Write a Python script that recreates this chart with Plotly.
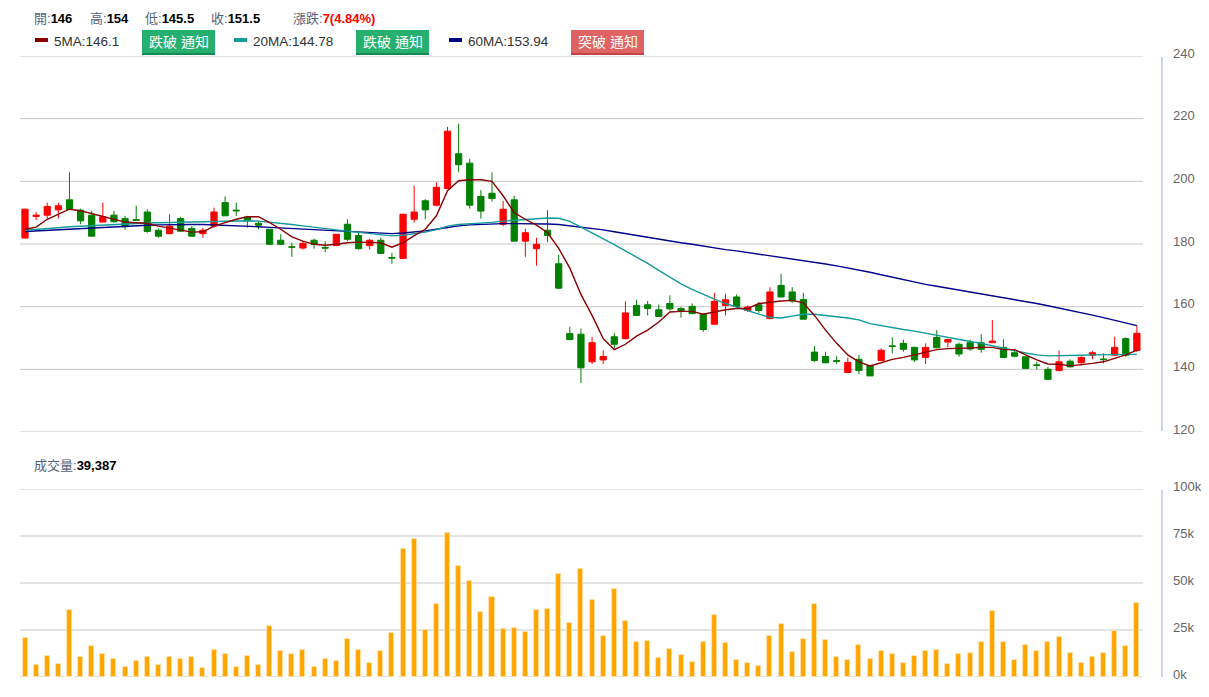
import plotly.graph_objects as go

# ---------------- data ----------------
days = list(range(1, 102))

opens = [181.9, 188.8, 189.2, 190.9, 194.1, 190.8, 189.2, 187.0, 189.2, 188.1,
         187.8, 190.2, 184.4, 183.3, 188.1, 185.0, 183.3, 185.7, 193.2, 190.8,
         188.6, 186.6, 184.7, 181.2, 179.1, 178.7, 181.2, 178.9, 179.5, 186.3,
         182.7, 179.5, 181.2, 175.7, 175.4, 187.9, 193.8, 192.4, 197.7, 208.8,
         205.8, 195.2, 196.2, 186.3, 194.1, 180.9, 178.5, 184.4, 173.7, 151.4,
         151.2, 142.4, 143.0, 150.4, 149.8, 160.4, 160.6, 159.0, 161.0, 159.4,
         160.1, 157.6, 154.4, 160.4, 163.1, 158.8, 160.6, 156.2, 166.8, 164.7,
         162.3, 145.5, 144.1, 142.8, 139.0, 143.2, 141.1, 142.8, 147.5, 148.3,
         147.0, 143.8, 150.2, 148.7, 148.0, 148.5, 148.5, 148.5, 147.0, 145.3,
         144.0, 141.4, 140.0, 139.6, 142.6, 142.1, 144.5, 143.3, 144.5, 149.8,
         146.0]
highs = [191.3, 190.2, 193.2, 193.2, 202.9, 191.3, 190.6, 193.2, 190.6, 189.0,
         192.2, 191.1, 184.9, 189.5, 188.7, 185.7, 185.2, 191.6, 195.2, 193.2,
         189.0, 187.4, 184.7, 183.1, 180.4, 180.9, 181.7, 180.9, 183.1, 187.9,
         183.6, 181.7, 182.0, 177.2, 189.5, 198.6, 194.3, 199.7, 217.4, 218.4,
         207.2, 197.2, 202.9, 193.8, 195.4, 184.9, 182.0, 190.8, 176.6, 153.6,
         153.0, 150.4, 146.1, 151.6, 161.7, 162.2, 161.8, 160.7, 163.6, 159.9,
         161.0, 157.8, 164.4, 164.1, 163.9, 160.4, 161.5, 166.2, 170.5, 166.2,
         164.4, 147.4, 145.6, 144.2, 143.8, 144.6, 141.1, 146.7, 150.2, 149.5,
         147.2, 148.3, 152.5, 149.8, 148.5, 149.5, 151.2, 155.7, 149.6, 146.1,
         144.0, 142.4, 140.8, 146.1, 143.2, 144.2, 145.9, 145.1, 150.4, 150.2,
         154.0]
lows = [181.7, 187.6, 188.1, 188.1, 191.1, 186.3, 182.5, 187.0, 186.8, 184.5,
        187.4, 183.6, 182.0, 183.3, 183.8, 182.3, 182.0, 185.2, 189.0, 189.0,
        185.2, 184.7, 179.9, 179.9, 175.9, 178.2, 178.5, 177.4, 179.3, 180.9,
        178.2, 178.2, 177.0, 173.7, 175.4, 186.8, 187.9, 192.0, 197.7, 202.9,
        191.3, 188.1, 193.5, 185.7, 180.9, 175.9, 173.1, 180.6, 165.6, 149.3,
        135.6, 141.7, 141.7, 146.7, 149.5, 157.2, 157.2, 156.7, 158.8, 156.5,
        157.6, 152.0, 154.4, 157.2, 159.9, 158.3, 158.0, 155.9, 162.9, 161.2,
        156.0, 142.4, 141.9, 141.7, 138.9, 138.4, 137.9, 142.8, 145.1, 145.6,
        142.4, 141.7, 146.7, 147.0, 144.0, 145.9, 145.3, 148.5, 143.8, 143.8,
        140.0, 140.0, 136.8, 139.6, 140.6, 141.1, 143.2, 141.9, 144.2, 144.0,
        145.5]
closes = [191.1, 189.2, 192.0, 192.2, 191.1, 187.4, 182.5, 188.7, 187.1, 185.5,
          187.6, 184.0, 182.5, 185.7, 184.1, 182.5, 184.4, 190.2, 189.0, 190.6,
          187.4, 186.0, 179.9, 179.9, 179.0, 180.2, 179.9, 178.7, 183.1, 181.5,
          178.5, 181.2, 177.0, 175.5, 189.5, 190.2, 190.9, 198.1, 216.0, 205.3,
          192.4, 190.5, 194.5, 191.1, 180.9, 183.6, 179.9, 182.7, 165.9, 149.5,
          140.5, 148.5, 144.1, 148.0, 158.0, 157.2, 159.4, 156.9, 159.3, 158.6,
          157.8, 152.7, 161.7, 162.2, 160.1, 159.9, 158.8, 164.7, 163.1, 161.8,
          156.0, 142.8, 142.1, 142.6, 142.2, 139.6, 137.9, 146.1, 147.3, 146.4,
          143.0, 147.0, 146.9, 149.5, 144.9, 146.5, 146.4, 149.0, 143.8, 144.2,
          140.3, 141.3, 136.8, 142.4, 140.8, 143.8, 145.3, 143.1, 147.0, 144.5,
          151.5]

ma5 = [184.7, 185.4, 187.9, 189.5, 191.1, 190.6, 189.7, 188.7, 187.9, 187.0,
       186.8, 186.6, 185.7, 185.1, 184.4, 183.8, 183.9, 185.7, 186.8, 187.9,
       188.7, 188.7, 186.8, 184.7, 182.3, 180.9, 179.9, 179.6, 179.9, 180.4,
       180.6, 180.6, 180.4, 179.0, 180.4, 182.7, 184.7, 189.0, 197.0, 200.2,
       200.5, 200.5, 200.0, 195.4, 190.0, 187.9, 186.0, 183.6, 178.6, 172.3,
       163.9, 157.2, 149.8, 146.3, 148.0, 150.6, 152.5, 155.1, 158.3, 158.5,
       158.5, 157.6, 158.3, 159.0, 159.4, 159.4, 161.0, 161.5, 161.8, 162.0,
       161.2, 157.2, 152.5, 148.3, 144.6, 142.4, 141.1, 142.1, 143.2, 143.8,
       144.6, 145.3, 146.3, 146.6, 146.6, 146.8, 147.0, 147.0, 146.3, 146.3,
       144.6, 143.0, 141.7, 141.6, 141.1, 141.4, 141.9, 142.4, 143.5, 144.6,
       146.1]
ma20 = [184.4, 184.6, 184.9, 185.2, 185.5, 185.7, 185.9, 186.1, 186.3, 186.5,
        186.6, 186.7, 186.8, 186.8, 186.9, 187.0, 187.1, 187.2, 187.3, 187.4,
        187.4, 187.3, 187.0, 186.7, 186.2, 185.8, 185.3, 184.9, 184.5, 184.1,
        183.7, 183.3, 183.0, 182.6, 182.8, 183.3, 183.8, 184.6, 185.7, 186.2,
        186.4, 186.6, 186.9, 187.3, 187.6, 187.9, 188.1, 188.3, 188.2, 187.2,
        185.4, 183.6, 181.8, 179.8, 177.8, 175.9, 173.8, 171.6, 169.4, 167.3,
        165.5, 163.9, 162.4, 161.0, 159.8, 158.7, 157.6, 156.6, 156.4, 157.0,
        157.6, 157.6, 157.3, 156.8, 156.4, 155.8, 154.6, 153.9, 153.2, 152.7,
        152.2, 151.5, 151.0, 150.3, 149.6, 148.9, 148.3, 147.6, 146.9, 146.0,
        145.2, 144.6, 144.3, 144.3, 144.4, 144.5, 144.6, 144.7, 144.8, 144.8,
        144.78]
ma60 = [184.0, 184.2, 184.4, 184.6, 184.8, 185.0, 185.2, 185.4, 185.6, 185.8,
        185.9, 186.0, 186.1, 186.2, 186.2, 186.2, 186.2, 186.1, 186.0, 185.9,
        185.7, 185.5, 185.3, 185.1, 184.9, 184.7, 184.5, 184.3, 184.1, 183.9,
        183.7, 183.5, 183.4, 183.3, 183.5, 183.8, 184.2, 184.7, 185.3, 185.8,
        186.1, 186.3, 186.4, 186.5, 186.5, 186.5, 186.5, 186.4, 186.2, 185.8,
        185.4, 185.0, 184.5, 183.9, 183.3, 182.6, 182.0, 181.4, 180.9, 180.4,
        179.9, 179.3, 178.7, 178.2, 177.8, 177.3, 176.8, 176.3, 175.8, 175.2,
        174.6, 174.1, 173.6, 173.0, 172.4, 171.7, 171.0, 170.2, 169.4, 168.6,
        167.8, 167.1, 166.5, 165.9, 165.4, 164.8, 164.2, 163.6, 163.0, 162.4,
        161.8, 161.0, 160.3, 159.6, 158.8, 158.0, 157.3, 156.5, 155.7, 154.8,
        153.94]

volumes = [20900, 6400, 11400, 7100, 35400, 10400, 16600, 12100, 9600, 5400,
           8400, 10900, 6600, 10400, 9600, 10400, 4600, 14600, 12100, 5400,
           11400, 6600, 27300, 13600, 12100, 14600, 5400, 9600, 8400, 20400,
           14100, 7700, 13600, 23600, 67900, 73200, 25000, 38800, 76400, 58800,
           51300, 34500, 42500, 25500, 26300, 23800, 35700, 36300, 55000, 28800,
           57700, 40700, 21800, 47000, 30000, 18600, 19300, 10000, 15000, 11800,
           8000, 18600, 33000, 18000, 9300, 7300, 6100, 21800, 28000, 13500,
           20200, 39000, 19700, 10800, 9000, 17200, 9600, 14000, 12100, 7600,
           11300, 14000, 14500, 7100, 12100, 12800, 18400, 35300, 18400, 9000,
           17200, 14000, 18400, 21500, 12800, 7600, 10800, 12800, 24600, 16500,
           39387]

price_ticks = [120, 140, 160, 180, 200, 220, 240]
vol_ticks = [0, 25000, 50000, 75000, 100000]
vol_tick_text = ["0k", "25k", "50k", "75k", "100k"]

header_items = [("開:", "146", 32), ("高:", "154", 88), ("低:", "145.5", 143),
                ("收:", "151.5", 209)]
change_label = "漲跌:"
change_value = "7(4.84%)"
# (text, colour, swatch x, button text, button kind, button x)
ma_legend = [("5MA:146.1", "#8b0000", 33, "跌破 通知", "green", 142),
             ("20MA:144.78", "#139a9a", 232, "跌破 通知", "green", 356),
             ("60MA:153.94", "#00008b", 447, "突破 通知", "red", 571)]
vol_label = "成交量:"
vol_value = "39,387"

# ---------------- geometry ----------------
# the page body has an 8px margin, so the figure is 16px smaller than the window
BODY = 8
W, H = 1209 - 2 * BODY, 697 - 2 * BODY
ML = 20 - BODY
MT = 56 - BODY
MR = W - (1143 - BODY)
MB = H - (677 - BODY)
PW = W - ML - MR
PH = H - MT - MB


def px(x):  # page pixel -> paper x
    return (x - 20) / PW


def py(y):  # page pixel -> paper y
    return (677 - y) / PH


FONT = "Arial, 'Liberation Sans', 'Noto Sans CJK TC', sans-serif"
LABEL_COL = "#55617c"
GRID = "#c8c8c8"

fig = go.Figure()

fig.add_trace(go.Candlestick(
    x=days, open=opens, high=highs, low=lows, close=closes,
    increasing=dict(line=dict(color="#ff0000", width=1), fillcolor="#ff0000"),
    decreasing=dict(line=dict(color="#008000", width=1), fillcolor="#008000"),
    whiskerwidth=0, xaxis="x", yaxis="y", showlegend=False, hoverinfo="skip"))

for vals, col in [(ma60, "#00008b"), (ma20, "#139a9a"), (ma5, "#8b0000")]:
    fig.add_trace(go.Scatter(x=days, y=vals, mode="lines",
                             line=dict(color=col, width=1.4),
                             xaxis="x", yaxis="y", showlegend=False,
                             hoverinfo="skip"))

fig.add_trace(go.Bar(x=days, y=volumes, width=0.45,
                     marker=dict(color="#ffa500",
                                 line=dict(color="rgba(255,230,180,0.9)", width=0.8)),
                     xaxis="x2", yaxis="y2", showlegend=False, hoverinfo="skip"))

price_dom = [py(432), 1.0]
vol_dom = [0.0, py(489)]

shapes = []
for v in price_ticks:
    shapes.append(dict(type="line", xref="paper", yref="y", x0=0, x1=1, y0=v, y1=v,
                       line=dict(color=GRID, width=1), layer="below"))
for v in vol_ticks[1:]:
    shapes.append(dict(type="line", xref="paper", yref="y2", x0=0, x1=1, y0=v, y1=v,
                       line=dict(color=GRID, width=1), layer="below"))
shapes.append(dict(type="line", xref="paper", yref="y2", x0=0, x1=1, y0=0, y1=0,
                   line=dict(color="#c0c0c0", width=1, dash="dash"), layer="below"))
# right axis lines
shapes.append(dict(type="line", xref="paper", yref="paper", x0=px(1162), x1=px(1162),
                   y0=py(431), y1=py(57), line=dict(color="#ccd6eb", width=2)))
shapes.append(dict(type="line", xref="paper", yref="paper", x0=px(1162), x1=px(1162),
                   y0=py(677), y1=py(490), line=dict(color="#ccd6eb", width=2)))

annotations = []
for lab, val, x in header_items:
    annotations.append(dict(
        x=px(x), y=py(19), xref="paper", yref="paper", xanchor="left", yanchor="middle",
        showarrow=False, font=dict(family=FONT, size=13, color=LABEL_COL),
        text=f"{lab}<span style='color:#000000'><b>{val}</b></span>"))
annotations.append(dict(
    x=px(291), y=py(19), xref="paper", yref="paper", xanchor="left", yanchor="middle",
    showarrow=False, font=dict(family=FONT, size=13, color=LABEL_COL),
    text=f"{change_label}<span style='color:#ff0000'><b>{change_value}</b></span>"))

for text, col, sx, btn, kind, bx0 in ma_legend:
    shapes.append(dict(type="line", xref="paper", yref="paper",
                       x0=px(sx + 2), x1=px(sx + 15), y0=py(40), y1=py(40),
                       line=dict(color=col, width=4)))
    annotations.append(dict(
        x=px(sx + 19), y=py(42), xref="paper", yref="paper", xanchor="left",
        yanchor="middle", showarrow=False,
        font=dict(family=FONT, size=13.5, color="#333333"), text=text))
    bx1 = bx0 + 73
    if kind == "green":
        top, bot = "#25b070", "#168a55"
    else:
        top, bot = "#e06262", "#c04444"
    shapes.append(dict(type="rect", xref="paper", yref="paper",
                       x0=px(bx0), x1=px(bx1), y0=py(55), y1=py(30),
                       fillcolor=bot, line=dict(width=0)))
    shapes.append(dict(type="rect", xref="paper", yref="paper",
                       x0=px(bx0), x1=px(bx1), y0=py(53), y1=py(30),
                       fillcolor=top, line=dict(width=0)))
    annotations.append(dict(
        x=px((bx0 + bx1) / 2), y=py(42), xref="paper", yref="paper",
        xanchor="center", yanchor="middle", showarrow=False,
        font=dict(family=FONT, size=14, color="#ffffff"), text=btn))

annotations.append(dict(
    x=px(32), y=py(465), xref="paper", yref="paper", xanchor="left", yanchor="middle",
    showarrow=False, font=dict(family=FONT, size=13, color=LABEL_COL),
    text=f"{vol_label}<span style='color:#000000'><b>{vol_value}</b></span>"))

fig.update_layout(
    width=W, height=H, margin=dict(l=ML, r=MR, t=MT, b=MB, autoexpand=False),
    paper_bgcolor="#ffffff", plot_bgcolor="#ffffff",
    font=dict(family=FONT, size=13, color="#666666"),
    boxgap=0.2,
    bargap=0,
    xaxis=dict(domain=[0, 1], range=[0.55, 101.55], anchor="y", showgrid=False,
               showticklabels=False, zeroline=False, showline=False, ticks="",
               rangeslider=dict(visible=False), fixedrange=True),
    xaxis2=dict(domain=[0, 1], range=[0.55, 101.55], anchor="y2", matches="x",
                showgrid=False, showticklabels=False, zeroline=False,
                showline=False, ticks=""),
    yaxis=dict(domain=price_dom, range=[120, 240], side="right", anchor="x",
               tickmode="array", tickvals=price_ticks, showgrid=False,
               zeroline=False, showline=False,
               ticks="", ticklabelstandoff=29, ticklabelshift=-3,
               tickfont=dict(family=FONT, size=13, color="#666666")),
    yaxis2=dict(domain=vol_dom, range=[0, 100000], side="right", anchor="x2",
                tickmode="array", tickvals=vol_ticks, ticktext=vol_tick_text,
                showgrid=False, zeroline=False, showline=False, ticks="",
                ticklabelstandoff=29, ticklabelshift=-3,
                tickfont=dict(family=FONT, size=13, color="#666666")),
    shapes=shapes,
    annotations=annotations,
)

fig.write_html("out.html")
